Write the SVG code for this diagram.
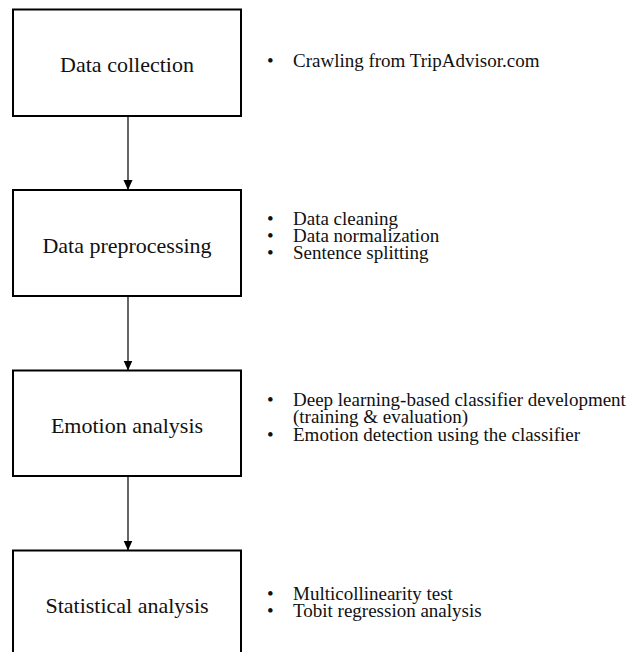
<svg xmlns="http://www.w3.org/2000/svg" width="637" height="652" viewBox="0 0 637 652">
<defs>
<style>
.box{fill:#ffffff;stroke:#000000;stroke-width:2}
.lbl{font-family:"Liberation Serif","Times New Roman",serif;font-size:22px;fill:#111111;text-anchor:middle}
.item{font-family:"Liberation Serif","Times New Roman",serif;font-size:19px;fill:#111111}
.conn{stroke:#000000;stroke-width:1.2;fill:none;marker-end:url(#arrow)}
</style>
<marker id="arrow" markerUnits="userSpaceOnUse" markerWidth="10" markerHeight="10" viewBox="0 0 10 10" refX="10" refY="5" orient="auto">
<path d="M0,0.5 L10,5 L0,9.5 Z" fill="#000000"/>
</marker>
</defs>
<rect width="637" height="652" fill="#ffffff"/>
<g id="connectors">
<line class="conn" x1="128" y1="116" x2="128" y2="190"/>
<line class="conn" x1="128" y1="296" x2="128" y2="370.5"/>
<line class="conn" x1="128" y1="476" x2="128" y2="550.5"/>
</g>
<g id="node-data-collection">
<rect class="box" x="13" y="9.5" width="228" height="106.5"/>
<text class="lbl" x="127" y="71.5">Data collection</text>
<text class="item" x="267" y="67">•</text>
<text class="item" x="293" y="67">Crawling from TripAdvisor.com</text>
</g>
<g id="node-data-preprocessing">
<rect class="box" x="13" y="190" width="228" height="106"/>
<text class="lbl" x="127" y="252.5">Data preprocessing</text>
<text class="item" x="267" y="225">•</text>
<text class="item" x="293" y="225">Data cleaning</text>
<text class="item" x="267" y="242">•</text>
<text class="item" x="293" y="242">Data normalization</text>
<text class="item" x="267" y="259">•</text>
<text class="item" x="293" y="259">Sentence splitting</text>
</g>
<g id="node-emotion-analysis">
<rect class="box" x="13" y="370.5" width="228" height="105.5"/>
<text class="lbl" x="127" y="432.5">Emotion analysis</text>
<text class="item" x="267" y="405.5">•</text>
<text class="item" x="293" y="405.5">Deep learning-based classifier development</text>
<text class="item" x="293" y="423">(training &amp; evaluation)</text>
<text class="item" x="267" y="440.5">•</text>
<text class="item" x="293" y="440.5">Emotion detection using the classifier</text>
</g>
<g id="node-statistical-analysis">
<rect class="box" x="13" y="550.5" width="228" height="107"/>
<text class="lbl" x="127" y="613">Statistical analysis</text>
<text class="item" x="267" y="600">•</text>
<text class="item" x="293" y="600">Multicollinearity test</text>
<text class="item" x="267" y="617">•</text>
<text class="item" x="293" y="617">Tobit regression analysis</text>
</g>
</svg>
